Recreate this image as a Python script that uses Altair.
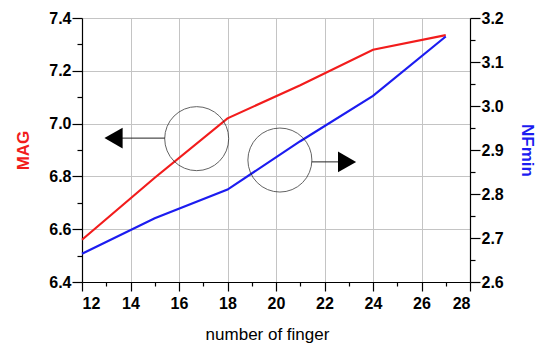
import altair as alt
import pandas as pd

# Measured series: MAG (left axis, dB) and NFmin (right axis, dB) vs. number of fingers
fingers = [12, 15, 18, 21, 24, 27]
mag = [6.56, 6.795, 7.02, 7.145, 7.28, 7.335]
nfmin = [2.664, 2.745, 2.81, 2.92, 3.023, 3.158]

# Axis tick values
x_major = [12, 14, 16, 18, 20, 22, 24, 26, 28]
x_minor = [13, 15, 17, 19, 21, 23, 25, 27]
mag_major = [6.4, 6.6, 6.8, 7.0, 7.2, 7.4]
mag_minor = [6.5, 6.7, 6.9, 7.1, 7.3]
nf_major = [2.6, 2.7, 2.8, 2.9, 3.0, 3.1, 3.2]
nf_minor = [2.65, 2.75, 2.85, 2.95, 3.05, 3.15]

# Callouts (in finger / MAG units): circle centres and arrow shafts
circle_finger = [16.73, 20.16]
circle_mag = [6.943, 6.862]
arrow_start = [15.42, 21.48]
arrow_end = [13.3, 22.93]
arrow_mag = [6.945, 6.855]

df = pd.DataFrame({"finger": fingers, "mag": mag, "nf": nfmin})
circ = pd.DataFrame({"cx": circle_finger, "cy": circle_mag})
arrows = pd.DataFrame({"x1": arrow_start, "x2": arrow_end, "y": arrow_mag})

FONT = "Liberation Sans"
xs = alt.Scale(domain=[12, 28], nice=False, zero=False)
ys_l = alt.Scale(domain=[6.4, 7.4], nice=False, zero=False)
ys_r = alt.Scale(domain=[2.6, 3.2], nice=False, zero=False)

lab = dict(labelFont=FONT, labelFontSize=16, labelFontWeight="bold",
           labelColor="black", domainColor="black", tickColor="black",
           domainWidth=1.2, tickWidth=1.2)

base = alt.Chart(df)

red = base.mark_line(color="#f21c1c", strokeWidth=2.2).encode(
    x=alt.X("finger:Q", scale=xs, axis=alt.Axis(
        orient="bottom", values=x_major, format="d", title="number of finger",
        titleFont=FONT, titleFontSize=17, titleFontWeight="normal",
        titleColor="black", titlePadding=15, titleX=185, grid=True,
        gridColor="#c4c4c4", tickSize=9, labelPadding=4, **lab)),
    y=alt.Y("mag:Q", scale=ys_l, axis=alt.Axis(
        orient="left", values=mag_major, format=".1f", title="MAG",
        titleFont=FONT, titleFontSize=17, titleFontWeight="bold",
        titleColor="#f21c1c", titlePadding=16, grid=True, gridColor="#c4c4c4",
        tickSize=10, labelPadding=1, **lab)),
)

blue = base.mark_line(color="#1c1cf0", strokeWidth=2.2).encode(
    x=alt.X("finger:Q", scale=xs, axis=None),
    y=alt.Y("nf:Q", scale=ys_r, axis=alt.Axis(
        orient="right", values=nf_major, format=".1f", title="NFmin",
        titleFont=FONT, titleFontSize=17, titleFontWeight="bold",
        titleColor="#1c1cf0", titlePadding=14, grid=False,
        tickSize=10, labelPadding=1, **lab)),
)

# Minor tick marks on the bottom, left and right axes
minor_l = base.mark_line(opacity=0).encode(
    x=alt.X("finger:Q", scale=xs, axis=alt.Axis(
        orient="bottom", values=x_minor, labels=False, title=None, grid=False,
        domain=False, tickSize=4, tickColor="black", tickWidth=1.2)),
    y=alt.Y("mag:Q", scale=ys_l, axis=alt.Axis(
        orient="left", values=mag_minor, labels=False, title=None, grid=False,
        domain=False, tickSize=5, tickColor="black", tickWidth=1.2)),
)
minor_r = base.mark_line(opacity=0).encode(
    x=alt.X("finger:Q", scale=xs, axis=None),
    y=alt.Y("nf:Q", scale=ys_r, axis=alt.Axis(
        orient="right", values=nf_minor, labels=False, title=None, grid=False,
        domain=False, tickSize=5, tickColor="black", tickWidth=1.2)),
)

circles = alt.Chart(circ).mark_point(
    shape="circle", size=4096, filled=False, color="#222222", strokeWidth=1
).encode(
    x=alt.X("cx:Q", scale=xs, axis=None),
    y=alt.Y("cy:Q", scale=ys_l, axis=None),
)

shafts = alt.Chart(arrows).mark_rule(color="#222222", strokeWidth=1).encode(
    x=alt.X("x1:Q", scale=xs, axis=None),
    x2="x2:Q",
    y=alt.Y("y:Q", scale=ys_l, axis=None),
)

head_left = alt.Chart(arrows.iloc[[0]]).mark_point(
    shape="triangle-left", filled=True, size=440, color="black", opacity=1
).encode(
    x=alt.X("x2:Q", scale=xs, axis=None),
    y=alt.Y("y:Q", scale=ys_l, axis=None),
)
head_right = alt.Chart(arrows.iloc[[1]]).mark_point(
    shape="triangle-right", filled=True, size=440, color="black", opacity=1
).encode(
    x=alt.X("x2:Q", scale=xs, axis=None),
    y=alt.Y("y:Q", scale=ys_l, axis=None),
)

chart = alt.layer(
    red, blue, minor_l, minor_r, circles, shafts, head_left, head_right
).resolve_scale(
    y="independent"
).resolve_axis(
    x="independent", y="independent"
).properties(
    width=388, height=264,
    autosize=alt.AutoSizeParams(type="none"),
    padding={"left": 82, "top": 18, "right": 75, "bottom": 63},
    background="white",
).configure_view(stroke=None)

chart.save("out.html", embed_options={"renderer": "svg", "actions": False})
